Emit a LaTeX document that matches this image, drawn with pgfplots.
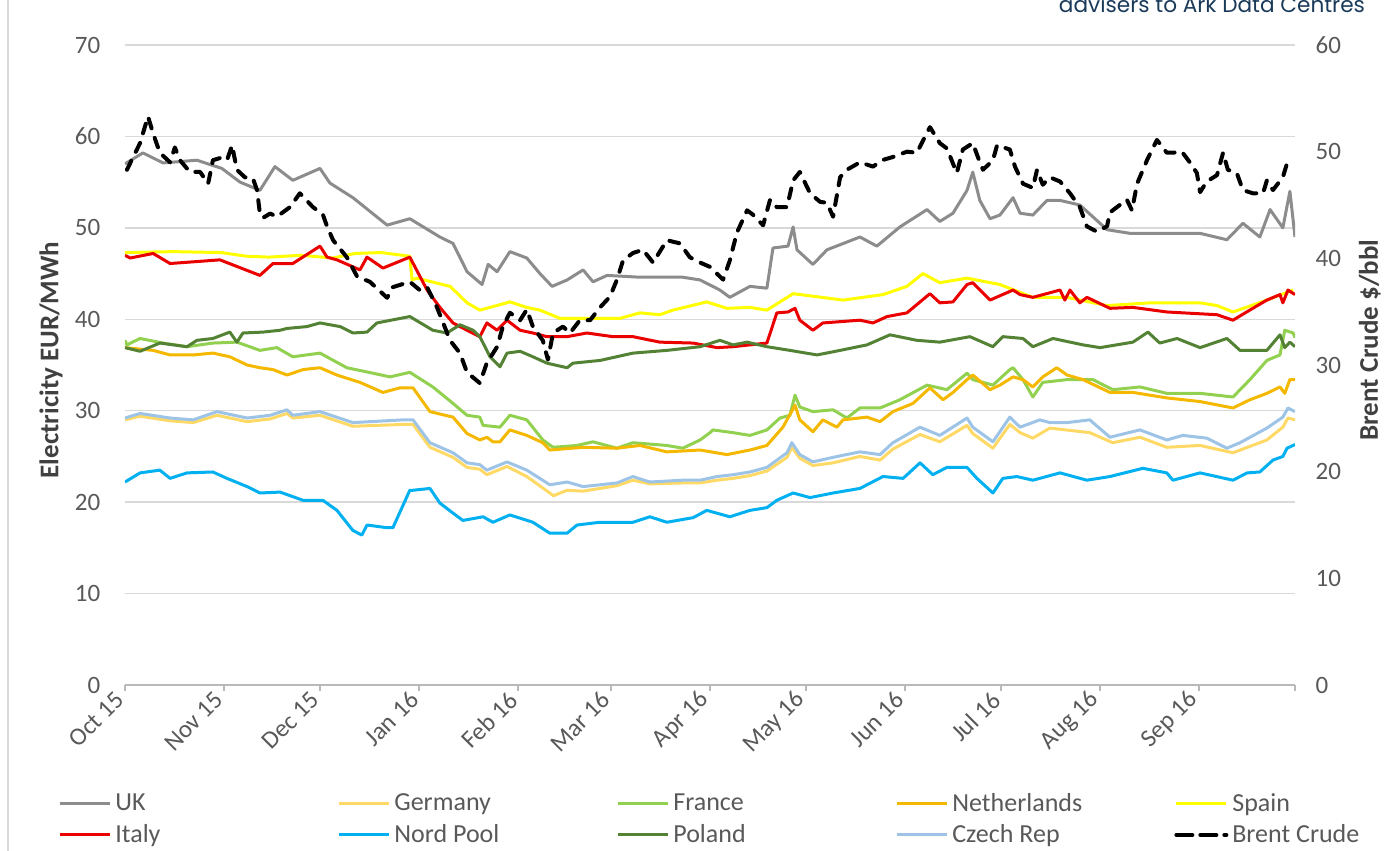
\documentclass[border=0pt]{standalone}
\usepackage{fontspec}
\setmainfont{Carlito}
\newfontfamily\popfont{Poppins}
\usepackage{pgfplots}
\pgfplotsset{compat=1.18}
\definecolor{cUK}{RGB}{140,140,140}
\definecolor{cDE}{RGB}{255,217,102}
\definecolor{cFR}{RGB}{146,208,80}
\definecolor{cNL}{RGB}{245,184,0}
\definecolor{cES}{RGB}{255,255,0}
\definecolor{cIT}{RGB}{235,0,0}
\definecolor{cNP}{RGB}{0,176,240}
\definecolor{cPL}{RGB}{84,130,53}
\definecolor{cCZ}{RGB}{157,195,230}
\definecolor{tickgray}{RGB}{89,89,89}
\definecolor{labgray}{RGB}{64,64,64}
\definecolor{gridgray}{RGB}{217,217,217}
\definecolor{navy}{RGB}{26,58,90}
\newcommand{\lentry}[1]{\makebox[109pt][l]{#1}}
\begin{document}
\begin{tikzpicture}
\useasboundingbox (-62.5pt,-83pt) rectangle (634.5pt,342.5pt);
\draw[gray!30, line width=0.8pt] (-58.5pt,-83pt) -- (-58.5pt,342.5pt);
\node[anchor=base east, font=\popfont\fontsize{10.8}{12}\selectfont, text=navy] at (623.5pt,336pt) {advisers to Ark Data Centres};
\begin{axis}[
  at={(0,0)}, anchor=south west,
  width=585pt, height=320pt, scale only axis,
  xmin=0, xmax=366, ymin=0, ymax=70,
  ytick={0,10,...,70},
  xtick={0,31,61,92,123,152,183,213,244,274,305,336,366},
  xticklabels={Oct 15,Nov 15,Dec 15,Jan 16,Feb 16,Mar 16,Apr 16,May 16,Jun 16,Jul 16,Aug 16,Sep 16,},
  axis x line*=bottom, axis y line*=left,
  x axis line style={-, draw=gray!55, line width=0.8pt},
  y axis line style={draw=none},
  ytick style={draw=none},
  xtick style={draw=gray!55, line width=0.8pt},
  tick align=outside, major tick length=3pt,
  ymajorgrids, major grid style={draw=gridgray, line width=0.7pt},
  /pgf/number format/assume math mode=true,
  tick label style={font=\fontsize{12.5}{14}\selectfont, text=tickgray},
  yticklabel style={xshift=-5.8pt},
  xticklabel style={rotate=45, anchor=east},
  ylabel={Electricity EUR/MWh},
  ylabel style={at={(axis description cs:-0.0632,0.508)}, anchor=center, font=\bfseries\fontsize{13.5}{15}\selectfont, text=labgray},
  legend columns=5,
  legend cell align=left,
  legend image code/.code={\draw[#1] (0pt,0pt) -- (25pt,0pt);},
  legend style={at={(axis description cs:-0.0573,-0.1625)}, anchor=north west, draw=none, fill=none,
    font=\fontsize{13}{15}\selectfont, text=tickgray, inner sep=0pt, row sep=1pt},
  every axis plot/.append style={line width=1.5pt, line join=round},
]
\addplot[cUK] coordinates {(0,57) (5.6,58.2) (11.9,57.1) (22.5,57.4) (30.3,56.5) (36,55) (42.2,54.1) (46.9,56.7) (52.5,55.2) (61,56.5) (64.1,54.9) (71.3,53.3) (82,50.3) (89.1,51) (98.5,49) (102.6,48.3) (107,45.2) (111.7,43.8) (113.6,46) (116.4,45.2) (120.4,47.4) (125.7,46.7) (129.8,45) (133.6,43.6) (138.3,44.3) (143.3,45.4) (146.4,44.1) (150.8,44.8) (161.1,44.6) (174.5,44.6) (179.9,44.3) (186.1,43.2) (189.2,42.4) (195.5,43.6) (200.8,43.4) (202.7,47.8) (207.4,48) (209,50.1) (210.2,47.6) (215.2,46) (219.6,47.6) (229.9,49) (235.2,48) (242.4,50.1) (250.9,52) (254.9,50.7) (259,51.6) (263.4,54.1) (265.2,56.1) (267.4,53) (270.6,51) (273.7,51.4) (277.8,53.3) (280,51.6) (284,51.4) (288.4,53) (292.5,53) (298.7,52.5) (307.2,49.8) (314.4,49.4) (323.7,49.4) (336.3,49.4) (344.7,48.7) (349.7,50.5) (355,49) (358.2,52) (362.2,50) (364.4,54) (366,49)};
\addlegendentry{\lentry{UK}}
\addplot[cDE] coordinates {(0,29) (4.7,29.4) (14.1,28.9) (21.3,28.7) (28.8,29.5) (38.2,28.8) (45.4,29.1) (50.7,29.7) (52.5,29.2) (61,29.5) (71.3,28.3) (87,28.5) (90.1,28.5) (95.4,26) (102.6,24.9) (107,23.8) (111,23.6) (113.2,23) (119.5,23.9) (125.7,22.8) (132.9,21) (134,20.7) (138.3,21.3) (143.3,21.2) (153.9,21.8) (158.9,22.4) (164.2,22) (174.5,22.1) (179.9,22.1) (185.2,22.4) (190.2,22.6) (195.5,22.9) (200.8,23.4) (207.1,24.9) (208.6,26) (211.1,24.8) (215.2,24) (221.5,24.3) (229.9,25) (236.2,24.6) (240.2,25.8) (248.7,27.4) (254.9,26.6) (263.4,28.4) (265.2,27.5) (271.5,25.9) (276.8,28.5) (280,27.6) (284,27) (289.3,28.1) (301.8,27.6) (309,26.5) (317.5,27.1) (325.9,26) (336.3,26.2) (346.6,25.4) (357.2,26.8) (362.2,28.2) (363.8,29.2) (366,29)};
\addlegendentry{\lentry{Germany}}
\addplot[cFR] coordinates {(0,37.7) (0.6,37.2) (4.7,37.9) (11.9,37.4) (19.4,37) (27.5,37.4) (35,37.5) (42.2,36.6) (47.5,36.9) (52.5,35.9) (61,36.3) (69.4,34.7) (77.6,34.1) (82.9,33.7) (89.1,34.2) (96.3,32.6) (102.6,30.8) (107,29.5) (111,29.3) (112,28.4) (117.3,28.2) (120.4,29.5) (125.7,29) (130.7,26.8) (133.9,26) (141.4,26.2) (146.4,26.6) (153.9,25.9) (158.9,26.5) (169.5,26.2) (174.5,25.9) (179.9,26.8) (183,27.6) (183.9,27.9) (190.2,27.6) (195.5,27.3) (200.8,27.9) (204.9,29.2) (208,29.5) (209.6,31.7) (211.1,30.4) (215.2,29.9) (221.5,30.1) (225.8,29.2) (229.9,30.3) (236.2,30.3) (242.4,31.2) (250.9,32.8) (257.1,32.3) (263.4,34.1) (265.2,33.4) (271.5,32.8) (276.8,34.5) (277.8,34.7) (280.9,33.4) (284,31.5) (287.1,33.1) (294.7,33.4) (302.8,33.4) (309,32.3) (317.5,32.6) (325.9,31.9) (336.3,31.9) (346.6,31.5) (351.9,33.4) (357.2,35.5) (361.3,36.1) (362.8,38.8) (365.4,38.5) (366,38)};
\addlegendentry{\lentry{France}}
\addplot[cNL] coordinates {(0,36.9) (8.8,36.6) (14.1,36.1) (21.3,36.1) (27.5,36.3) (32.8,35.9) (38.2,35) (42.2,34.7) (46.3,34.5) (50.7,33.9) (55.7,34.5) (61,34.7) (66.3,33.9) (73.5,33.1) (80.7,32) (86,32.5) (90.1,32.5) (95.4,29.9) (102.6,29.3) (107,27.5) (111,26.8) (113.2,27.1) (115.1,26.6) (117.3,26.6) (120.4,27.9) (125.7,27.3) (130.7,26.5) (132.9,25.7) (143.3,26) (153.9,25.9) (161.1,26.2) (169.5,25.5) (179.9,25.7) (188.3,25.2) (195.5,25.7) (200.8,26.2) (205.8,28.2) (209.6,30.6) (211.1,29) (215.2,27.7) (218.3,29) (222.7,28.2) (224.6,29) (232.1,29.3) (236.2,28.8) (240.2,29.9) (246.5,30.8) (251.8,32.5) (255.9,31.2) (259,32) (263.4,33.4) (265.2,33.9) (270.6,32.3) (273.7,32.8) (277.8,33.7) (280.9,33.4) (284,32.6) (287.1,33.7) (291.5,34.7) (294.7,33.9) (299.7,33.4) (308.1,32) (315.3,32) (325.9,31.4) (336.3,31) (346.6,30.3) (351.9,31.2) (357.2,31.9) (361.3,32.6) (362.8,31.9) (364.4,33.4) (366,33.4)};
\addlegendentry{\lentry{Netherlands}}
\addplot[cES] coordinates {(0,47.3) (15,47.4) (30,47.3) (38,46.9) (45,46.8) (55,47) (65,46.7) (72,47.2) (80,47.3) (89.1,46.9) (89.8,44.3) (91.3,44.5) (101.7,43.6) (107,41.8) (111,41) (117.3,41.6) (120.4,41.9) (125.7,41.3) (129.8,41) (136.1,40.1) (144.5,40.1) (154.8,40.1) (161.1,40.7) (167.3,40.5) (171.4,41) (182,41.9) (188.3,41.2) (195.5,41.3) (200.8,41) (209,42.8) (224.6,42.1) (237.1,42.7) (244.6,43.6) (249.6,45) (254.9,44) (263.4,44.5) (273.7,43.8) (284,42.4) (294.7,42.4) (307.2,41.5) (320.6,41.8) (336.3,41.8) (341.6,41.5) (346.6,40.8) (357.2,42.1) (365.4,43.2)};
\addlegendentry{\lentry{Spain}}
\addplot[cIT] coordinates {(0,47) (1.6,46.7) (8.8,47.2) (14.1,46.1) (29.7,46.5) (42.2,44.8) (46.3,46.1) (52.5,46.1) (61,48) (63.2,46.8) (66.3,46.5) (73.5,45.4) (75.7,46.8) (80.7,45.6) (89.1,46.8) (94.5,43.2) (98.5,41.3) (102.6,39.6) (107,38.8) (111,38.1) (113.2,39.6) (116.4,38.8) (119.5,39.9) (123.6,38.8) (127.6,38.5) (132,38.1) (138.3,38.1) (144.5,38.5) (152.6,38.1) (158.9,38.1) (167.3,37.5) (177.7,37.4) (185.2,36.9) (190.2,37) (200.8,37.4) (203.9,40.7) (207.4,40.8) (209.6,41.2) (211.1,39.9) (215.2,38.8) (218.3,39.6) (229.9,39.9) (234,39.6) (238.4,40.3) (244.6,40.7) (251.8,42.8) (254.9,41.8) (259,41.9) (263.4,43.8) (265.2,44) (270.6,42.1) (277.8,43.2) (280,42.7) (284,42.4) (292.5,43.2) (294,42.1) (295.6,43.2) (298.7,41.8) (300.9,42.4) (308.1,41.2) (315.3,41.3) (325.9,40.8) (341.6,40.5) (346.6,39.9) (352.8,41.2) (357.2,42.1) (361.3,42.7) (362.2,41.8) (363.8,43.2) (366,42.7)};
\addlegendentry{\lentry{Italy}}
\addplot[cNP] coordinates {(0,22.2) (4.7,23.2) (10.9,23.5) (14.1,22.6) (19.4,23.2) (27.5,23.3) (31.9,22.6) (38.2,21.7) (42.2,21) (48.5,21.1) (55.7,20.2) (61.9,20.2) (66.3,19.1) (71.3,16.9) (74.1,16.4) (75.7,17.5) (82,17.2) (83.8,17.2) (89.1,21.3) (90.1,21.3) (95.4,21.5) (98.5,19.9) (102.6,18.8) (105.7,18) (112,18.4) (115.1,17.8) (120.4,18.6) (127.6,17.8) (132.9,16.6) (138.3,16.6) (141.4,17.5) (148.6,17.8) (158.9,17.8) (164.2,18.4) (169.5,17.8) (177.7,18.3) (182,19.1) (189.2,18.4) (195.5,19.1) (200.8,19.4) (203.9,20.2) (209,21) (214.3,20.5) (221.5,21) (229.9,21.5) (237.1,22.8) (243.4,22.6) (248.7,24.3) (252.7,23) (257.1,23.8) (263.4,23.8) (266.5,22.6) (271.5,21) (274.6,22.6) (279,22.8) (284,22.4) (292.5,23.2) (300.9,22.4) (308.1,22.8) (318.4,23.7) (325.9,23.2) (327.8,22.4) (336.3,23.2) (346.6,22.4) (351,23.2) (355,23.3) (359.1,24.6) (362.2,25) (363.5,25.9) (366,26.3)};
\addlegendentry{\lentry{Nord Pool}}
\addplot[cPL] coordinates {(0,36.9) (4.7,36.5) (10.9,37.4) (19.4,37) (22.5,37.7) (27.5,37.9) (32.8,38.6) (35,37.5) (36.9,38.5) (43.2,38.6) (48.5,38.8) (50.7,39) (56.9,39.2) (61,39.6) (67.3,39.2) (71.3,38.5) (75.7,38.6) (78.8,39.6) (89.1,40.3) (96.3,38.8) (100.7,38.5) (104.8,39.4) (108.9,38.8) (111,38.1) (114.2,35.9) (117.3,34.8) (119.5,36.3) (123.6,36.5) (127.6,35.9) (132,35.2) (138.3,34.7) (140.1,35.2) (148.6,35.5) (158.9,36.3) (169.5,36.6) (179.9,37) (186.1,37.7) (190.2,37.2) (194.6,37.5) (200.8,37) (208,36.6) (216.5,36.1) (223.7,36.6) (232.1,37.2) (239.3,38.3) (247.7,37.7) (254.9,37.5) (264.3,38.1) (271.5,37) (274.6,38.1) (280.9,37.9) (284,37) (290.3,37.9) (299.7,37.2) (305,36.9) (315.3,37.5) (320,38.6) (323.7,37.4) (329.1,37.9) (336.3,36.9) (344.7,37.9) (348.8,36.6) (357.2,36.6) (361.3,38.3) (362.8,36.9) (364.4,37.5) (366,37)};
\addlegendentry{\lentry{Poland}}
\addplot[cCZ] coordinates {(0,29.2) (4.7,29.7) (14.1,29.2) (21.3,29) (28.8,29.9) (38.2,29.2) (45.4,29.5) (50.7,30.1) (52.5,29.5) (61,29.9) (71.3,28.7) (87,29) (90.1,29) (95.4,26.5) (102.6,25.4) (107,24.3) (111,24.1) (113.2,23.5) (119.5,24.4) (125.7,23.5) (132.9,21.9) (138.3,22.2) (143.3,21.7) (153.9,22.1) (158.9,22.8) (164.2,22.2) (174.5,22.4) (179.9,22.4) (185.2,22.8) (190.2,23) (195.5,23.3) (200.8,23.8) (207.1,25.4) (208.6,26.5) (211.1,25.2) (215.2,24.4) (221.5,24.9) (229.9,25.5) (236.2,25.2) (240.2,26.5) (248.7,28.2) (254.9,27.3) (263.4,29.2) (265.2,28.2) (271.5,26.6) (276.8,29.3) (280,28.2) (286.2,29) (289.3,28.7) (294.7,28.7) (301.8,29) (308.1,27.1) (317.5,27.9) (325.9,26.8) (330.9,27.3) (338.4,27) (344.7,25.9) (348.8,26.5) (357.2,28.1) (362.2,29.3) (363.8,30.3) (366,29.9)};
\addlegendentry{\lentry{Czech Rep}}
\addlegendimage{black, line width=2pt, line cap=round, dash pattern=on 8pt off 4pt}
\addlegendentry{\lentry{Brent Crude}}
\end{axis}
\begin{axis}[
  at={(0,0)}, anchor=south west,
  width=585pt, height=320pt, scale only axis,
  xmin=0, xmax=366, ymin=0, ymax=60,
  ytick={0,10,...,60},
  axis x line=none, axis y line*=right,
  y axis line style={draw=none},
  ytick style={draw=none},
  tick align=outside, major tick length=3pt,
  /pgf/number format/assume math mode=true,
  tick label style={font=\fontsize{12.5}{14}\selectfont, text=tickgray},
  yticklabel style={xshift=3.8pt},
  ylabel={Brent Crude \$/bbl},
  ylabel style={at={(axis description cs:1.064,0.539)}, anchor=center, font=\bfseries\fontsize{13.5}{15}\selectfont, text=labgray},
]
\addplot[black, line width=2pt, line cap=round, line join=round, dash pattern=on 5pt off 5pt] coordinates {(0.6,48.3) (4.7,50.8) (7.2,53.3) (8.8,51.7) (10.9,49.9) (14.1,49) (15.6,50.4) (17.2,49.2) (20.3,48.1) (23.5,48.1) (26,47) (27.5,49.2) (29.7,49.4) (31.9,49.2) (33.5,50.6) (35,48.3) (37.5,47.6) (40,47.5) (41.3,46.4) (42.2,44.2) (43.2,43.8) (45.4,44.2) (47.5,43.9) (51.6,44.8) (54.7,46.1) (58.8,44.8) (61.9,44.1) (63.2,43) (65.1,41.7) (69.4,40.1) (72.6,38.3) (76.6,37.8) (82,36.3) (83.8,37.3) (89.1,37.8) (92.3,37) (94.5,37.3) (97.6,35.4) (101.7,32.3) (104.8,31.1) (107,29.3) (111,28.3) (113.2,30.2) (116.4,31.7) (118.2,33.6) (120.4,34.9) (123.6,34.2) (125.7,35.2) (127.6,33.6) (130.7,32.3) (132.3,30.5) (133.9,33) (137,33.6) (139.2,33) (142.3,34.2) (145.5,34.2) (148.6,35.4) (151.7,36.4) (153.9,38) (155.8,39.8) (158.9,40.5) (162,40.8) (165.2,39.6) (169.5,41.7) (173.6,41.4) (176.7,40.1) (179.9,39.6) (183,39.2) (187.1,38) (189.2,39.8) (191.4,42.4) (194.6,44.5) (196.4,44.1) (199.6,43.1) (201.8,45.5) (203.9,44.8) (207.1,44.8) (209,47.3) (211.1,48.1) (214.3,46.1) (217.4,45.3) (219.6,45.2) (221.5,43.9) (223.7,47.6) (225.8,48.3) (229.9,49) (234,48.6) (236.8,49.2) (240.2,49.5) (244.6,50) (247.7,49.9) (251.8,52.3) (254.9,50.8) (257.1,50.3) (259,48.9) (260.2,48) (262.1,50.2) (265.2,50.8) (266.8,49.5) (268.4,48.3) (271.5,49.2) (272.8,50.6) (276.8,50.2) (278.4,48.6) (280.9,47) (284,46.6) (285.3,48.3) (287.1,46.9) (289.3,47.6) (292.5,47.2) (295.6,46.1) (298.7,44.8) (300.9,43) (304,42.5) (307.2,43) (308.1,44.3) (310.3,44.8) (313.4,45.5) (315,44.5) (316.6,47) (319.7,49.2) (322.8,51.1) (325.9,49.9) (327.8,49.9) (330.6,50) (333.1,49) (335.3,48) (336.3,46.2) (338.4,47.2) (341.6,47.8) (343.5,49.9) (345,48.3) (347.8,48) (349.7,46.4) (352.8,46.1) (356,46.1) (357.2,47.3) (359.1,46.4) (362.2,47.6) (363.5,48.9) (365.4,49.2)};
\end{axis}
\end{tikzpicture}
\end{document}
